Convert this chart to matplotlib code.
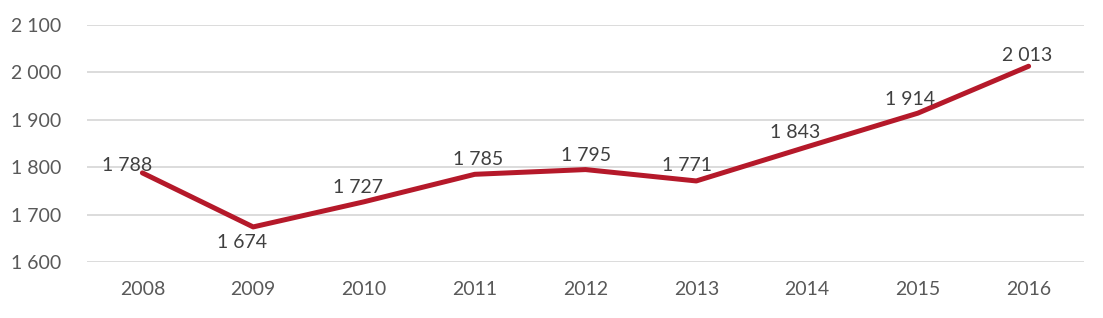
import matplotlib
matplotlib.use("Agg")
import matplotlib.pyplot as plt
from matplotlib.ticker import FuncFormatter

years = ["2008", "2009", "2010", "2011", "2012", "2013", "2014", "2015", "2016"]
values = [1788, 1674, 1727, 1785, 1795, 1771, 1843, 1914, 2013]
y_ticks = [1600, 1700, 1800, 1900, 2000, 2100]

# label offsets in pixels (dx, dy)
label_offsets = [(-15, 7), (-11, -16), (-6, 14), (3, 15), (1, 14.5), (-9, 15.5), (-12, 14), (-8, 14), (-1, 10.5)]

plt.rcParams['font.family'] = ['Lato', 'DejaVu Sans']

fig = plt.figure(figsize=(11.03, 3.18), dpi=100)
ax = fig.add_axes([87/1103, 56/318, 997/1103, 237/318])

x = list(range(len(years)))
ax.plot(x, values, color="#B5192A", linewidth=3.6, solid_capstyle="round", solid_joinstyle="round", zorder=3)

fmt = lambda v: f"{int(v):,}".replace(",", " ")
for xi, v, (dx, dy) in zip(x, values, label_offsets):
    ax.annotate(fmt(v), (xi, v), xytext=(dx * 0.72, dy * 0.72), textcoords="offset points",
                ha="center", va="center", fontsize=14, color="#404040", zorder=4)

ax.set_xlim(-0.5, len(years) - 0.5)
ax.set_ylim(1600, 2100)
ax.set_yticks(y_ticks)
ax.yaxis.set_major_formatter(FuncFormatter(lambda v, p: fmt(v)))
ax.set_xticks(x)
ax.set_xticklabels(years)
ax.grid(axis="y", color="#D9D9D9", linewidth=1.3)
ax.set_axisbelow(True)
for s in ax.spines.values():
    s.set_visible(False)
ax.tick_params(axis="both", length=0, labelsize=14, colors="#595959")
ax.tick_params(axis="x", pad=14)
ax.yaxis.set_tick_params(pad=0)
for lbl in ax.get_yticklabels():
    lbl.set_horizontalalignment("left")
    lbl.set_x(-76/997)
fig.savefig("out.png", dpi=100)
